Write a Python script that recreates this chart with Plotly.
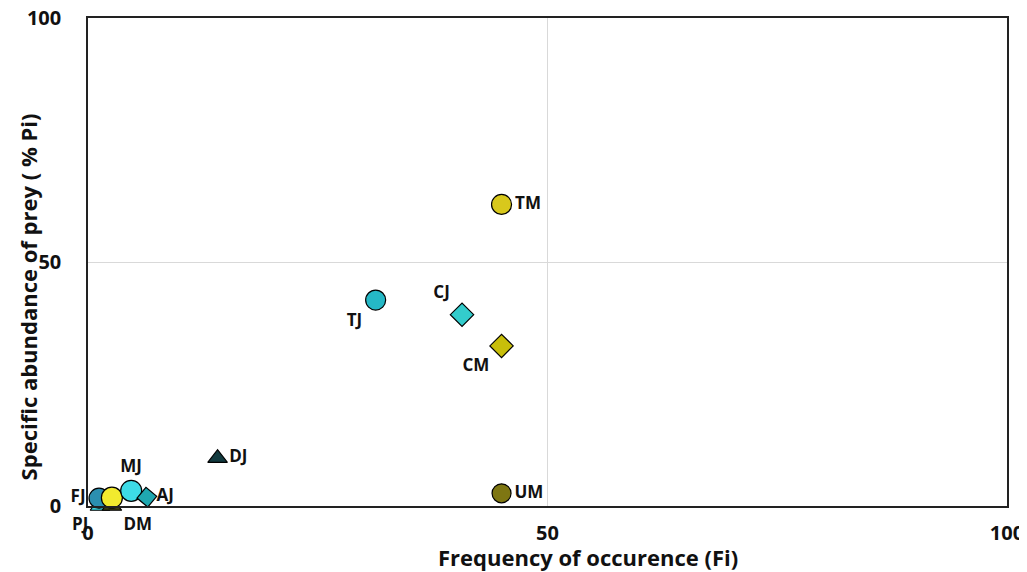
import plotly.graph_objects as go

# Data
labels = ["PJ", "DM", "FJ", "", "MJ", "AJ", "DJ", "TJ", "CJ", "CM", "UM", "TM"]
freq_fi = [1.3, 2.6, 1.2, 2.6, 4.7, 6.4, 14.1, 31.3, 40.7, 45.0, 45.0, 45.0]
abund_pi = [0.0, 0.0, 1.6, 1.7, 3.1, 1.8, 9.8, 42.2, 39.2, 32.8, 2.6, 61.8]

symbols = ["triangle-up", "triangle-up", "circle", "circle", "circle", "square",
           "triangle-up", "circle", "diamond", "diamond", "circle", "circle"]
sizes = [17, 17, 20, 21, 21, 14, 17, 20, 18, 18, 19, 20]
angles = [0, 0, 0, 0, 0, 40, 0, 0, 0, 0, 0, 0]
fills = ["#3DD5E0", "#3B3A10", "#2B8FB0", "#F2EA2E", "#3DDBE6", "#1FA8B0",
         "#123A3F", "#25B8C6", "#33CCCC", "#C8BE0A", "#7E7612", "#D8C81C"]
text_pos = ["bottom left", "bottom right", "middle left", "middle center", "top center",
            "middle right", "middle right", "bottom left", "top left", "bottom left",
            "middle right", "middle right"]

x_ticks = [0, 50, 100]
y_ticks = [0, 50, 100]

font_family = "Open Sans"

fig = go.Figure()
fig.add_trace(go.Scatter(
    x=freq_fi, y=abund_pi, mode="markers+text", text=labels,
    textposition=text_pos,
    textfont=dict(family=font_family, size=17, color="#111111", weight="bold"),
    marker=dict(symbol=symbols, size=sizes, angle=angles, color=fills,
                line=dict(color="#000000", width=1.2), opacity=1),
    cliponaxis=False, showlegend=False, hoverinfo="skip",
))

# The page adds an 8px body margin; the figure is sized to fit the window.
fig.update_layout(
    width=1019, height=564,
    margin=dict(l=80, r=20, t=10, b=66, autoexpand=False),
    paper_bgcolor="white", plot_bgcolor="white",
    font=dict(family=font_family, color="#111111"),
    xaxis=dict(range=[0, 100], tickvals=x_ticks, ticktext=[str(v) for v in x_ticks],
               showgrid=True, gridcolor="#D9D9D9", gridwidth=1, zeroline=False,
               showline=True, linecolor="#222222", linewidth=1.5, mirror=True,
               tickfont=dict(family=font_family, size=20, weight="bold"),
               ticks="", ticklabelstandoff=8, automargin=False,
               ticklabeloverflow="allow"),
    yaxis=dict(range=[0, 100], tickvals=y_ticks, ticktext=[str(v) for v in y_ticks],
               showgrid=True, gridcolor="#D9D9D9", gridwidth=1, zeroline=False,
               showline=True, linecolor="#222222", linewidth=1.5, mirror=True,
               tickfont=dict(family=font_family, size=20, weight="bold"),
               ticks="", ticklabelstandoff=21, automargin=False,
               ticklabeloverflow="allow"),
    annotations=[
        dict(text="<b>Frequency of occurence (Fi)</b>", xref="paper", yref="paper",
             x=0.544, y=-0.104, xanchor="center", yanchor="middle", showarrow=False,
             font=dict(family=font_family, size=22, color="#111111")),
        dict(text="<b>Specific abundance of prey ( % Pi)</b>", xref="paper", yref="paper",
             x=-0.065, y=0.428, xanchor="center", yanchor="middle", showarrow=False,
             textangle=-90, font=dict(family=font_family, size=22, color="#111111")),
    ],
)

fig.write_html("out.html")
